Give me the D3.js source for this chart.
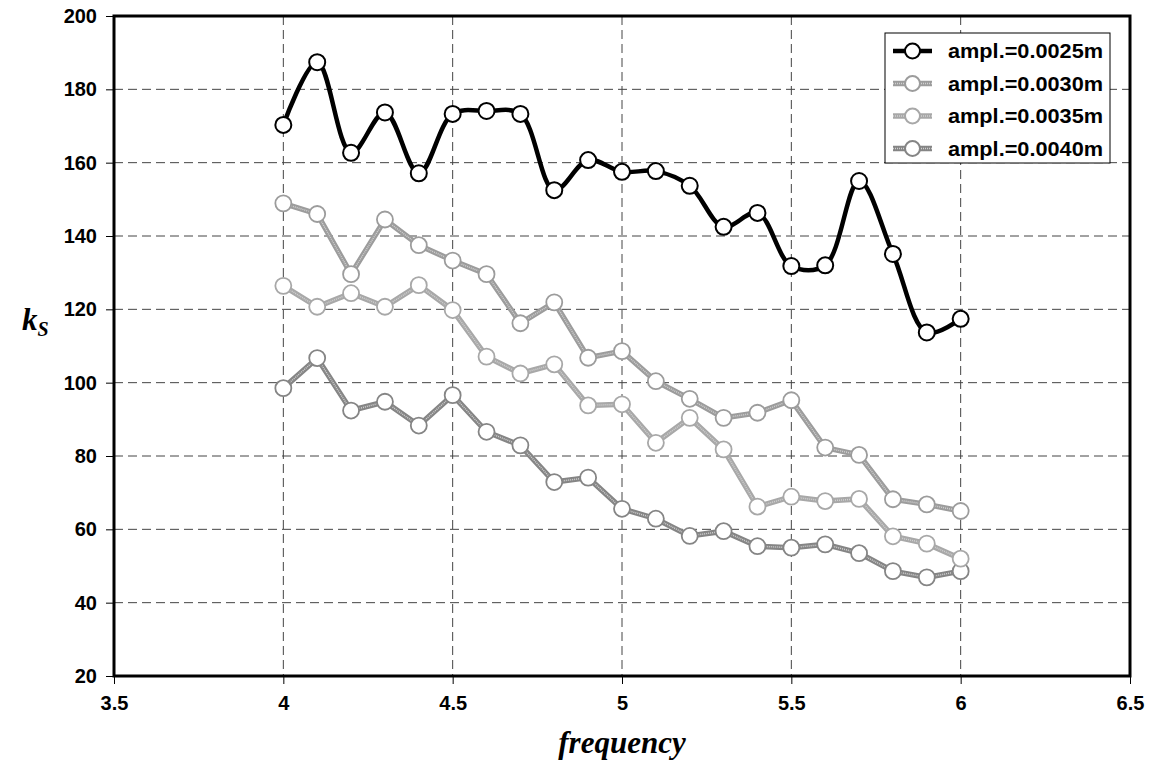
<!DOCTYPE html>
<html>
<head>
<meta charset="utf-8">
<script src="https://cdn.jsdelivr.net/npm/d3@7"></script>
<style>
  html, body { margin: 0; padding: 0; background: #fff; }
  svg { display: block; }
</style>
</head>
<body>
<svg id="chart" width="1153" height="765"></svg>
<script>
const frequency = [4.0, 4.1, 4.2, 4.3, 4.4, 4.5, 4.6, 4.7, 4.8, 4.9, 5.0, 5.1, 5.2, 5.3, 5.4, 5.5, 5.6, 5.7, 5.8, 5.9, 6.0];
const ampl0025 = [170.3, 187.4, 162.7, 173.7, 157.1, 173.3, 174.1, 173.3, 152.5, 160.7, 157.5, 157.7, 153.7, 142.5, 146.3, 131.8, 132.0, 155.0, 135.1, 113.7, 117.4];
const ampl0030 = [148.9, 146.0, 129.6, 144.5, 137.5, 133.3, 129.6, 116.2, 121.9, 106.8, 108.6, 100.4, 95.6, 90.4, 91.8, 95.2, 82.3, 80.3, 68.2, 66.8, 65.0];
const ampl0035 = [126.4, 120.7, 124.4, 120.7, 126.6, 119.8, 107.1, 102.5, 105.0, 93.8, 94.1, 83.6, 90.4, 81.8, 66.2, 68.9, 67.7, 68.3, 58.1, 56.1, 52.0];
const ampl0040 = [98.5, 106.7, 92.4, 94.8, 88.3, 96.6, 86.6, 82.9, 72.9, 74.1, 65.6, 62.9, 58.2, 59.5, 55.4, 55.0, 55.9, 53.5, 48.6, 46.9, 48.6];
const seriesNames = ["ampl.=0.0025m", "ampl.=0.0030m", "ampl.=0.0035m", "ampl.=0.0040m"];
const xTicks = [3.5, 4, 4.5, 5, 5.5, 6, 6.5];
const yTicks = [20, 40, 60, 80, 100, 120, 140, 160, 180, 200];

const seriesValues = [ampl0025, ampl0030, ampl0035, ampl0040];
const seriesColors = ["#000000", "#9c9c9c", "#a8a8a8", "#858585"];

const svg = d3.select("#chart");
const L = 114, R = 1130, T = 16, B = 676;
const x = d3.scaleLinear().domain([3.5, 6.5]).range([L, R]);
const y = d3.scaleLinear().domain([20, 200]).range([B, T]);

// grid
const grid = svg.append("g");
grid.selectAll("line.v").data(xTicks.slice(1, -1)).enter().append("line")
  .attr("x1", d => x(d)).attr("x2", d => x(d)).attr("y1", T).attr("y2", B)
  .attr("stroke", "#444").attr("stroke-width", 1).attr("stroke-dasharray", "9,5");
grid.selectAll("line.h").data(yTicks.slice(1, -1)).enter().append("line")
  .attr("x1", L).attr("x2", R).attr("y1", d => y(d)).attr("y2", d => y(d))
  .attr("stroke", "#444").attr("stroke-width", 1).attr("stroke-dasharray", "9,5");

// axes
const yAxis = d3.axisLeft(y).tickValues(yTicks).tickSize(8).tickPadding(9).tickFormat(d3.format("d"));
const xAxis = d3.axisBottom(x).tickValues(xTicks).tickSize(8).tickPadding(12).tickFormat(d => String(d));
const gy = svg.append("g").attr("transform", `translate(${L},0)`).call(yAxis);
const gx = svg.append("g").attr("transform", `translate(0,${B})`).call(xAxis);
[gy, gx].forEach(g => {
  g.select(".domain").remove();
  g.selectAll(".tick line").attr("stroke", "#000");
  g.selectAll(".tick text").attr("fill", "#000")
    .style("font-family", "'Liberation Sans', Arial, sans-serif")
    .style("font-weight", "bold").style("font-size", "20px");
});

// frame
svg.append("rect").attr("x", L).attr("y", T).attr("width", R - L).attr("height", B - T)
  .attr("fill", "none").attr("stroke", "#000").attr("stroke-width", 3);

// series
const lineStraight = d3.line().x((d, i) => x(frequency[i])).y(d => y(d));
const lineSmooth = d3.line().x((d, i) => x(frequency[i])).y(d => y(d)).curve(d3.curveCatmullRom.alpha(0.5));

for (let s = seriesValues.length - 1; s >= 0; s--) {
  const vals = seriesValues[s];
  const g = svg.append("g");
  if (s === 0) {
    g.append("path").datum(vals).attr("d", lineSmooth)
      .attr("fill", "none").attr("stroke", "#000").attr("stroke-width", 4.5);
  } else {
    g.append("path").datum(vals).attr("d", lineStraight)
      .attr("fill", "none").attr("stroke", seriesColors[s]).attr("stroke-width", 5.5);
    g.append("path").datum(vals).attr("d", lineStraight)
      .attr("fill", "none").attr("stroke", "#d0d0d0").attr("stroke-width", 1.5).attr("stroke-dasharray", "1,1");
  }
  g.selectAll("circle").data(vals).enter().append("circle")
    .attr("cx", (d, i) => x(frequency[i])).attr("cy", d => y(d)).attr("r", 8)
    .attr("fill", "#fff").attr("stroke", s === 0 ? "#000" : seriesColors[s])
    .attr("stroke-width", s === 0 ? 2 : 1.8);
}

// legend
const lg = svg.append("g");
lg.append("rect").attr("x", 885).attr("y", 33).attr("width", 225).attr("height", 130)
  .attr("fill", "#fff").attr("stroke", "#000").attr("stroke-width", 1);
seriesNames.forEach((name, i) => {
  const cy = 51 + i * 32.5;
  lg.append("line").attr("x1", 893).attr("x2", 932).attr("y1", cy).attr("y2", cy)
    .attr("stroke", seriesColors[i]).attr("stroke-width", i === 0 ? 4.5 : 5.5);
  if (i > 0) {
    lg.append("line").attr("x1", 893).attr("x2", 932).attr("y1", cy).attr("y2", cy)
      .attr("stroke", "#d0d0d0").attr("stroke-width", 1.5).attr("stroke-dasharray", "1,1");
  }
  lg.append("circle").attr("cx", 912.5).attr("cy", cy).attr("r", 7.5)
    .attr("fill", "#fff").attr("stroke", seriesColors[i]).attr("stroke-width", 2);
  lg.append("text").attr("x", 948).attr("y", cy + 7).text(name)
    .attr("textLength", 155).attr("lengthAdjust", "spacingAndGlyphs")
    .style("font-family", "'Liberation Sans', Arial, sans-serif")
    .style("font-weight", "bold").style("font-size", "20px").attr("fill", "#000");
});

// axis titles
svg.append("text").attr("x", (L + R) / 2).attr("y", 753).attr("text-anchor", "middle")
  .style("font-family", "'Liberation Serif', 'Times New Roman', serif")
  .style("font-style", "italic").style("font-weight", "bold").style("font-size", "31px")
  .text("frequency");
const kt = svg.append("text").attr("x", 22).attr("y", 330)
  .style("font-family", "'Liberation Serif', 'Times New Roman', serif")
  .style("font-style", "italic").style("font-weight", "bold").style("font-size", "31px");
kt.append("tspan").text("k");
kt.append("tspan").attr("dy", 6).style("font-size", "20px").text("S");
</script>
</body>
</html>
